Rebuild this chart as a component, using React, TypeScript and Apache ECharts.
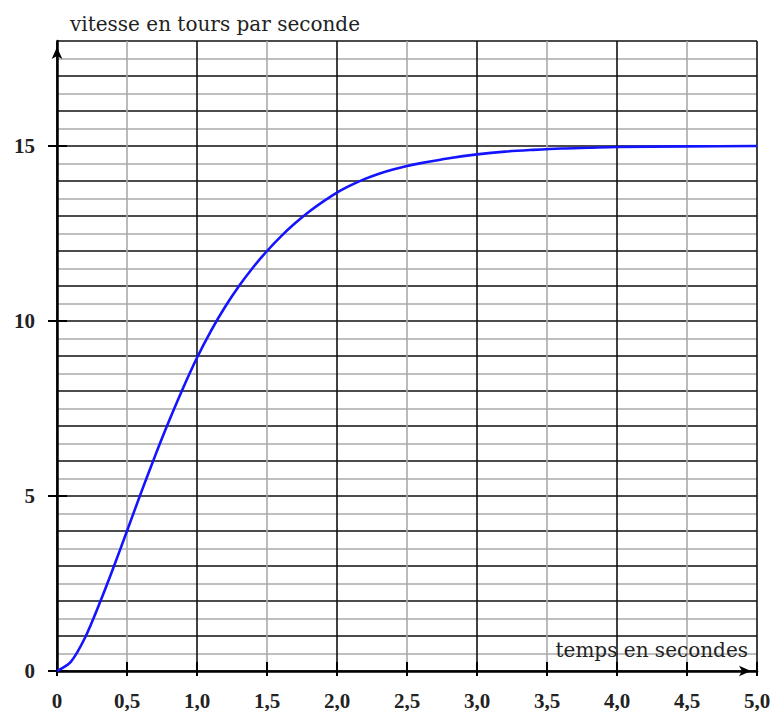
import React, { useEffect, useRef } from "react";
import * as echarts from "echarts";

const timeSeconds = [0, 0.1, 0.2, 0.3, 0.4, 0.5, 0.6, 0.7, 0.8, 0.9, 1.0, 1.1, 1.2, 1.3, 1.4, 1.5, 1.6, 1.7, 1.8, 1.9, 2.0, 2.1, 2.2, 2.3, 2.4, 2.5, 2.6, 2.8, 3.0, 3.2, 3.4, 3.6, 3.8, 4.0, 4.5, 5.0];
const speedTurns = [0, 0.27, 0.95, 1.89, 2.92, 4.0, 5.09, 6.14, 7.14, 8.08, 8.95, 9.72, 10.4, 11.0, 11.53, 12.0, 12.42, 12.79, 13.12, 13.41, 13.67, 13.88, 14.06, 14.21, 14.33, 14.43, 14.51, 14.65, 14.76, 14.84, 14.89, 14.93, 14.95, 14.97, 14.99, 15.0];
const yLabelValues = [0, 5, 10, 15];
const yAxisTitle = "vitesse en tours par seconde";
const xAxisTitle = "temps en secondes";

const NAME_FONT = "DejaVu Serif";
const LABEL_FONT = "Liberation Serif";

export default function App() {
  const ref = useRef<HTMLDivElement>(null);
  useEffect(() => {
    if (!ref.current) return;
    const chart = echarts.init(ref.current, undefined, { renderer: "svg" });
    const fmtX = (v: number) => (v === 0 ? "0" : v.toFixed(1).replace(".", ","));
    const labelStyle = {
      fontFamily: LABEL_FONT,
      fontSize: 21,
      fontWeight: "bold",
      color: "#222",
    };
    chart.setOption({
      animation: false,
      backgroundColor: "#ffffff",
      grid: { left: 57, right: 17, top: 41, bottom: 39, containLabel: false },
      xAxis: [
        {
          type: "value",
          min: 0,
          max: 5,
          interval: 0.5,
          position: "bottom",
          name: xAxisTitle,
          nameLocation: "end",
          nameGap: -9,
          nameTextStyle: {
            fontFamily: NAME_FONT,
            fontSize: 20,
            color: "#222",
            align: "right",
            verticalAlign: "bottom",
            padding: [0, 0, 11, 0],
          },
          axisLine: {
            show: true,
            symbol: ["none", "arrow"],
            symbolSize: [8, 12],
            symbolOffset: [0, -6],
            lineStyle: { color: "#000", width: 2.5 },
          },
          axisTick: { show: true, length: 5, lineStyle: { color: "#000", width: 2 } },
          axisLabel: { margin: 19, formatter: fmtX, ...labelStyle },
          splitLine: { show: true, lineStyle: { color: ["#111", "#aaa"], width: 1.6 } },
        },
        {
          type: "value",
          min: 0,
          max: 5,
          interval: 0.5,
          position: "bottom",
          axisLine: { show: false },
          axisLabel: { show: false },
          splitLine: { show: false },
          axisTick: { show: true, inside: true, length: 9, lineStyle: { color: "#000", width: 2 } },
        },
      ],
      yAxis: [
        {
          type: "value",
          min: 0,
          max: 18,
          interval: 0.5,
          position: "left",
          name: yAxisTitle,
          nameLocation: "end",
          nameGap: 7,
          nameTextStyle: {
            fontFamily: NAME_FONT,
            fontSize: 20,
            color: "#222",
            align: "left",
            verticalAlign: "bottom",
            padding: [0, 0, 0, 13],
          },
          axisLine: {
            show: true,
            symbol: ["none", "arrow"],
            symbolSize: [8, 12],
            symbolOffset: [0, -6],
            lineStyle: { color: "#000", width: 2.5 },
          },
          axisTick: { show: false },
          axisLabel: { show: false },
          splitLine: { show: true, lineStyle: { color: ["#111", "#aaa"], width: 1.6 } },
        },
        {
          type: "value",
          min: 0,
          max: 18,
          interval: 0.5,
          position: "left",
          axisLine: { show: false },
          splitLine: { show: false },
          axisTick: { show: true, customValues: yLabelValues, length: 9, lineStyle: { color: "#000", width: 2 } },
          axisLabel: { customValues: yLabelValues, margin: 22, ...labelStyle },
        },
        {
          type: "value",
          min: 0,
          max: 18,
          interval: 0.5,
          position: "left",
          axisLine: { show: false },
          axisLabel: { show: false },
          splitLine: { show: false },
          axisTick: { show: true, inside: true, customValues: yLabelValues, length: 10, lineStyle: { color: "#000", width: 2 } },
        },
      ],
      series: [
        {
          type: "line",
          xAxisIndex: 0,
          yAxisIndex: 0,
          data: timeSeconds.map((t, i) => [t, speedTurns[i]]),
          smooth: 0.3,
          showSymbol: false,
          lineStyle: { color: "#1414ff", width: 2.6 },
          z: 5,
        },
      ],
    });
    return () => chart.dispose();
  }, []);
  return (
    <div
      ref={ref}
      style={{ position: "absolute", left: 0, top: 0, width: 774, height: 711, background: "#fff" }}
    />
  );
}
